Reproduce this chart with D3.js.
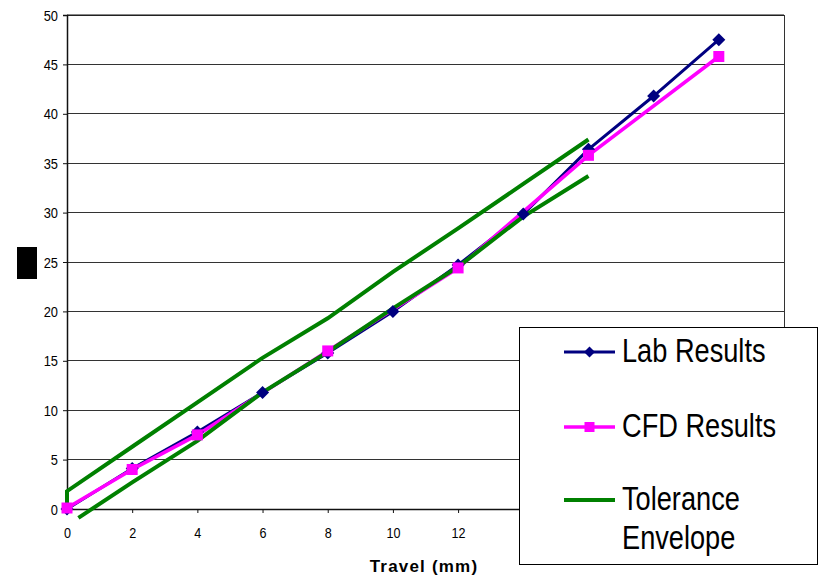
<!DOCTYPE html>
<html>
<head>
<meta charset="utf-8">
<script src="https://cdn.jsdelivr.net/npm/d3@7/dist/d3.min.js"></script>
<style>
  html, body { margin: 0; padding: 0; background: #fff; }
  svg { display: block; }
  text { font-family: "Liberation Sans", Arial, sans-serif; }
</style>
</head>
<body>
<svg id="chart" width="819" height="577"></svg>
<script>
// ---- data ----
const xDomainMax = 22;
const xTicks = [0, 2, 4, 6, 8, 10, 12];
const yTicks = [0, 5, 10, 15, 20, 25, 30, 35, 40, 45, 50];

const labX = [0, 2, 4, 6, 8, 10, 12, 14, 16, 18, 20];
const labY = [0, 4.1, 7.8, 11.8, 15.8, 20.0, 24.7, 29.85, 36.4, 41.8, 47.5];

const cfdX = [0, 2, 4, 8, 12, 16, 20];
const cfdY = [0.1, 4.0, 7.5, 16.0, 24.4, 35.8, 45.8];

const tolUpperX = [0, 0, 2, 4, 6, 8, 10, 12, 14, 16];
const tolUpperY = [0.3, 1.8, 6.3, 10.8, 15.3, 19.3, 24.0, 28.4, 32.9, 37.4];
const tolLowerX = [0.35, 2, 4, 6, 8, 10, 12, 14, 16];
const tolLowerY = [-0.9, 2.7, 6.9, 11.8, 15.9, 20.3, 24.5, 29.6, 33.7];

const legendLabels = [["Lab Results"], ["CFD Results"], ["Tolerance", "Envelope"]];
const xTitle = "Travel (mm)";

(function () {
// ---- layout ----
const svg = d3.select("#chart");
const pL = 67, pR = 784, pT = 15, pB = 509;
const x = d3.scaleLinear().domain([0, xDomainMax]).range([pL, pR]);
const y = d3.scaleLinear().domain([0, 50]).range([pB, pT]);

const NAVY = "#000080", MAGENTA = "#FF00FF", GREEN = "#008000";

// gridlines
svg.append("g").selectAll("line").data(yTicks.filter(d => d > 0)).join("line")
  .attr("x1", pL).attr("x2", pR)
  .attr("y1", d => y(d)).attr("y2", d => y(d))
  .attr("stroke", "#333").attr("stroke-width", 1).attr("shape-rendering", "crispEdges");

// plot border right
svg.append("line").attr("x1", pR).attr("x2", pR).attr("y1", pT).attr("y2", pB)
  .attr("stroke", "#333").attr("stroke-width", 1).attr("shape-rendering", "crispEdges");

// axes
const yAxis = d3.axisLeft(y).tickValues(yTicks).tickSize(4).tickPadding(5).tickFormat(d3.format("d"));
const gy = svg.append("g").attr("transform", `translate(${pL},0)`).call(yAxis);
const xAxis = d3.axisBottom(x).tickValues(xTicks).tickSize(4).tickPadding(5).tickFormat(d3.format("d"));
const gx = svg.append("g").attr("transform", `translate(0,${pB})`).call(xAxis);
[gx, gy].forEach(g => {
  g.select(".domain").attr("stroke", "#111").attr("stroke-width", 1.5);
  g.selectAll(".tick line").attr("stroke", "#111");
  g.selectAll(".tick text").attr("font-size", 14).attr("fill", "#000")
    .attr("font-family", "'Liberation Sans', Arial, sans-serif");
});
gy.selectAll(".tick text").attr("x", null).attr("dy", null).attr("y", 5)
  .attr("transform", "translate(-9,0) scale(0.92,1)");
gx.selectAll(".tick text").attr("dy", null).attr("y", 0)
  .attr("transform", "translate(0,29) scale(0.9,1)");
// top border
svg.append("line").attr("x1", pL).attr("x2", pR).attr("y1", pT).attr("y2", pT)
  .attr("stroke", "#111").attr("stroke-width", 1.2);

// x-axis title
svg.append("text").attr("x", 424).attr("y", 572).attr("text-anchor", "middle")
  .attr("font-size", 17).attr("font-weight", "bold").attr("letter-spacing", 1.2)
  .text(xTitle);

// redacted y-axis title block
svg.append("rect").attr("x", 17).attr("y", 247).attr("width", 20).attr("height", 32).attr("fill", "#000");

// ---- series ----
const line = d3.line().x(d => x(d[0])).y(d => y(d[1]));
const labPts = labX.map((v, i) => [v, labY[i]]);
const cfdPts = cfdX.map((v, i) => [v, cfdY[i]]);
const upPts = tolUpperX.map((v, i) => [v, tolUpperY[i]]);
const loPts = tolLowerX.map((v, i) => [v, tolLowerY[i]]);

svg.append("path").attr("d", line(labPts)).attr("fill", "none").attr("stroke", NAVY).attr("stroke-width", 3);
svg.append("path").attr("d", line(cfdPts)).attr("fill", "none").attr("stroke", MAGENTA).attr("stroke-width", 3.6);
[upPts, loPts].forEach(p => svg.append("path").attr("d", line(p)).attr("fill", "none")
  .attr("stroke", GREEN).attr("stroke-width", 4));

const diamond = (cx, cy, r) => `M${cx},${cy - r}L${cx + r},${cy}L${cx},${cy + r}L${cx - r},${cy}Z`;
svg.append("g").selectAll("path").data(labPts).join("path")
  .attr("d", d => diamond(x(d[0]), y(d[1]), 6.5)).attr("fill", NAVY);
svg.append("g").selectAll("rect").data(cfdPts).join("rect")
  .attr("x", d => x(d[0]) - 5.5).attr("y", d => y(d[1]) - 5.5)
  .attr("width", 11).attr("height", 11).attr("fill", MAGENTA);

// ---- legend ----
const lg = svg.append("g");
lg.append("rect").attr("x", 519.5).attr("y", 327.5).attr("width", 298).attr("height", 237)
  .attr("fill", "#fff").attr("stroke", "#000").attr("stroke-width", 1);
const rowsY = [352, 427, 500];
const colors = [NAVY, MAGENTA, GREEN];
const widths = [3, 3.6, 4];
rowsY.forEach((ry, i) => {
  lg.append("line").attr("x1", 564).attr("x2", 615).attr("y1", ry).attr("y2", ry)
    .attr("stroke", colors[i]).attr("stroke-width", widths[i]);
  if (i === 0) lg.append("path").attr("d", diamond(589.5, ry, 5.5)).attr("fill", NAVY);
  if (i === 1) lg.append("rect").attr("x", 584.5).attr("y", ry - 5).attr("width", 10).attr("height", 10).attr("fill", MAGENTA);
  legendLabels[i].forEach((s, j) => {
    lg.append("text").attr("transform", `translate(622,${ry + 10 + j * 39}) scale(0.8,1)`)
      .attr("font-size", 34).attr("fill", "#000").text(s);
  });
});
})();
</script>
</body>
</html>
